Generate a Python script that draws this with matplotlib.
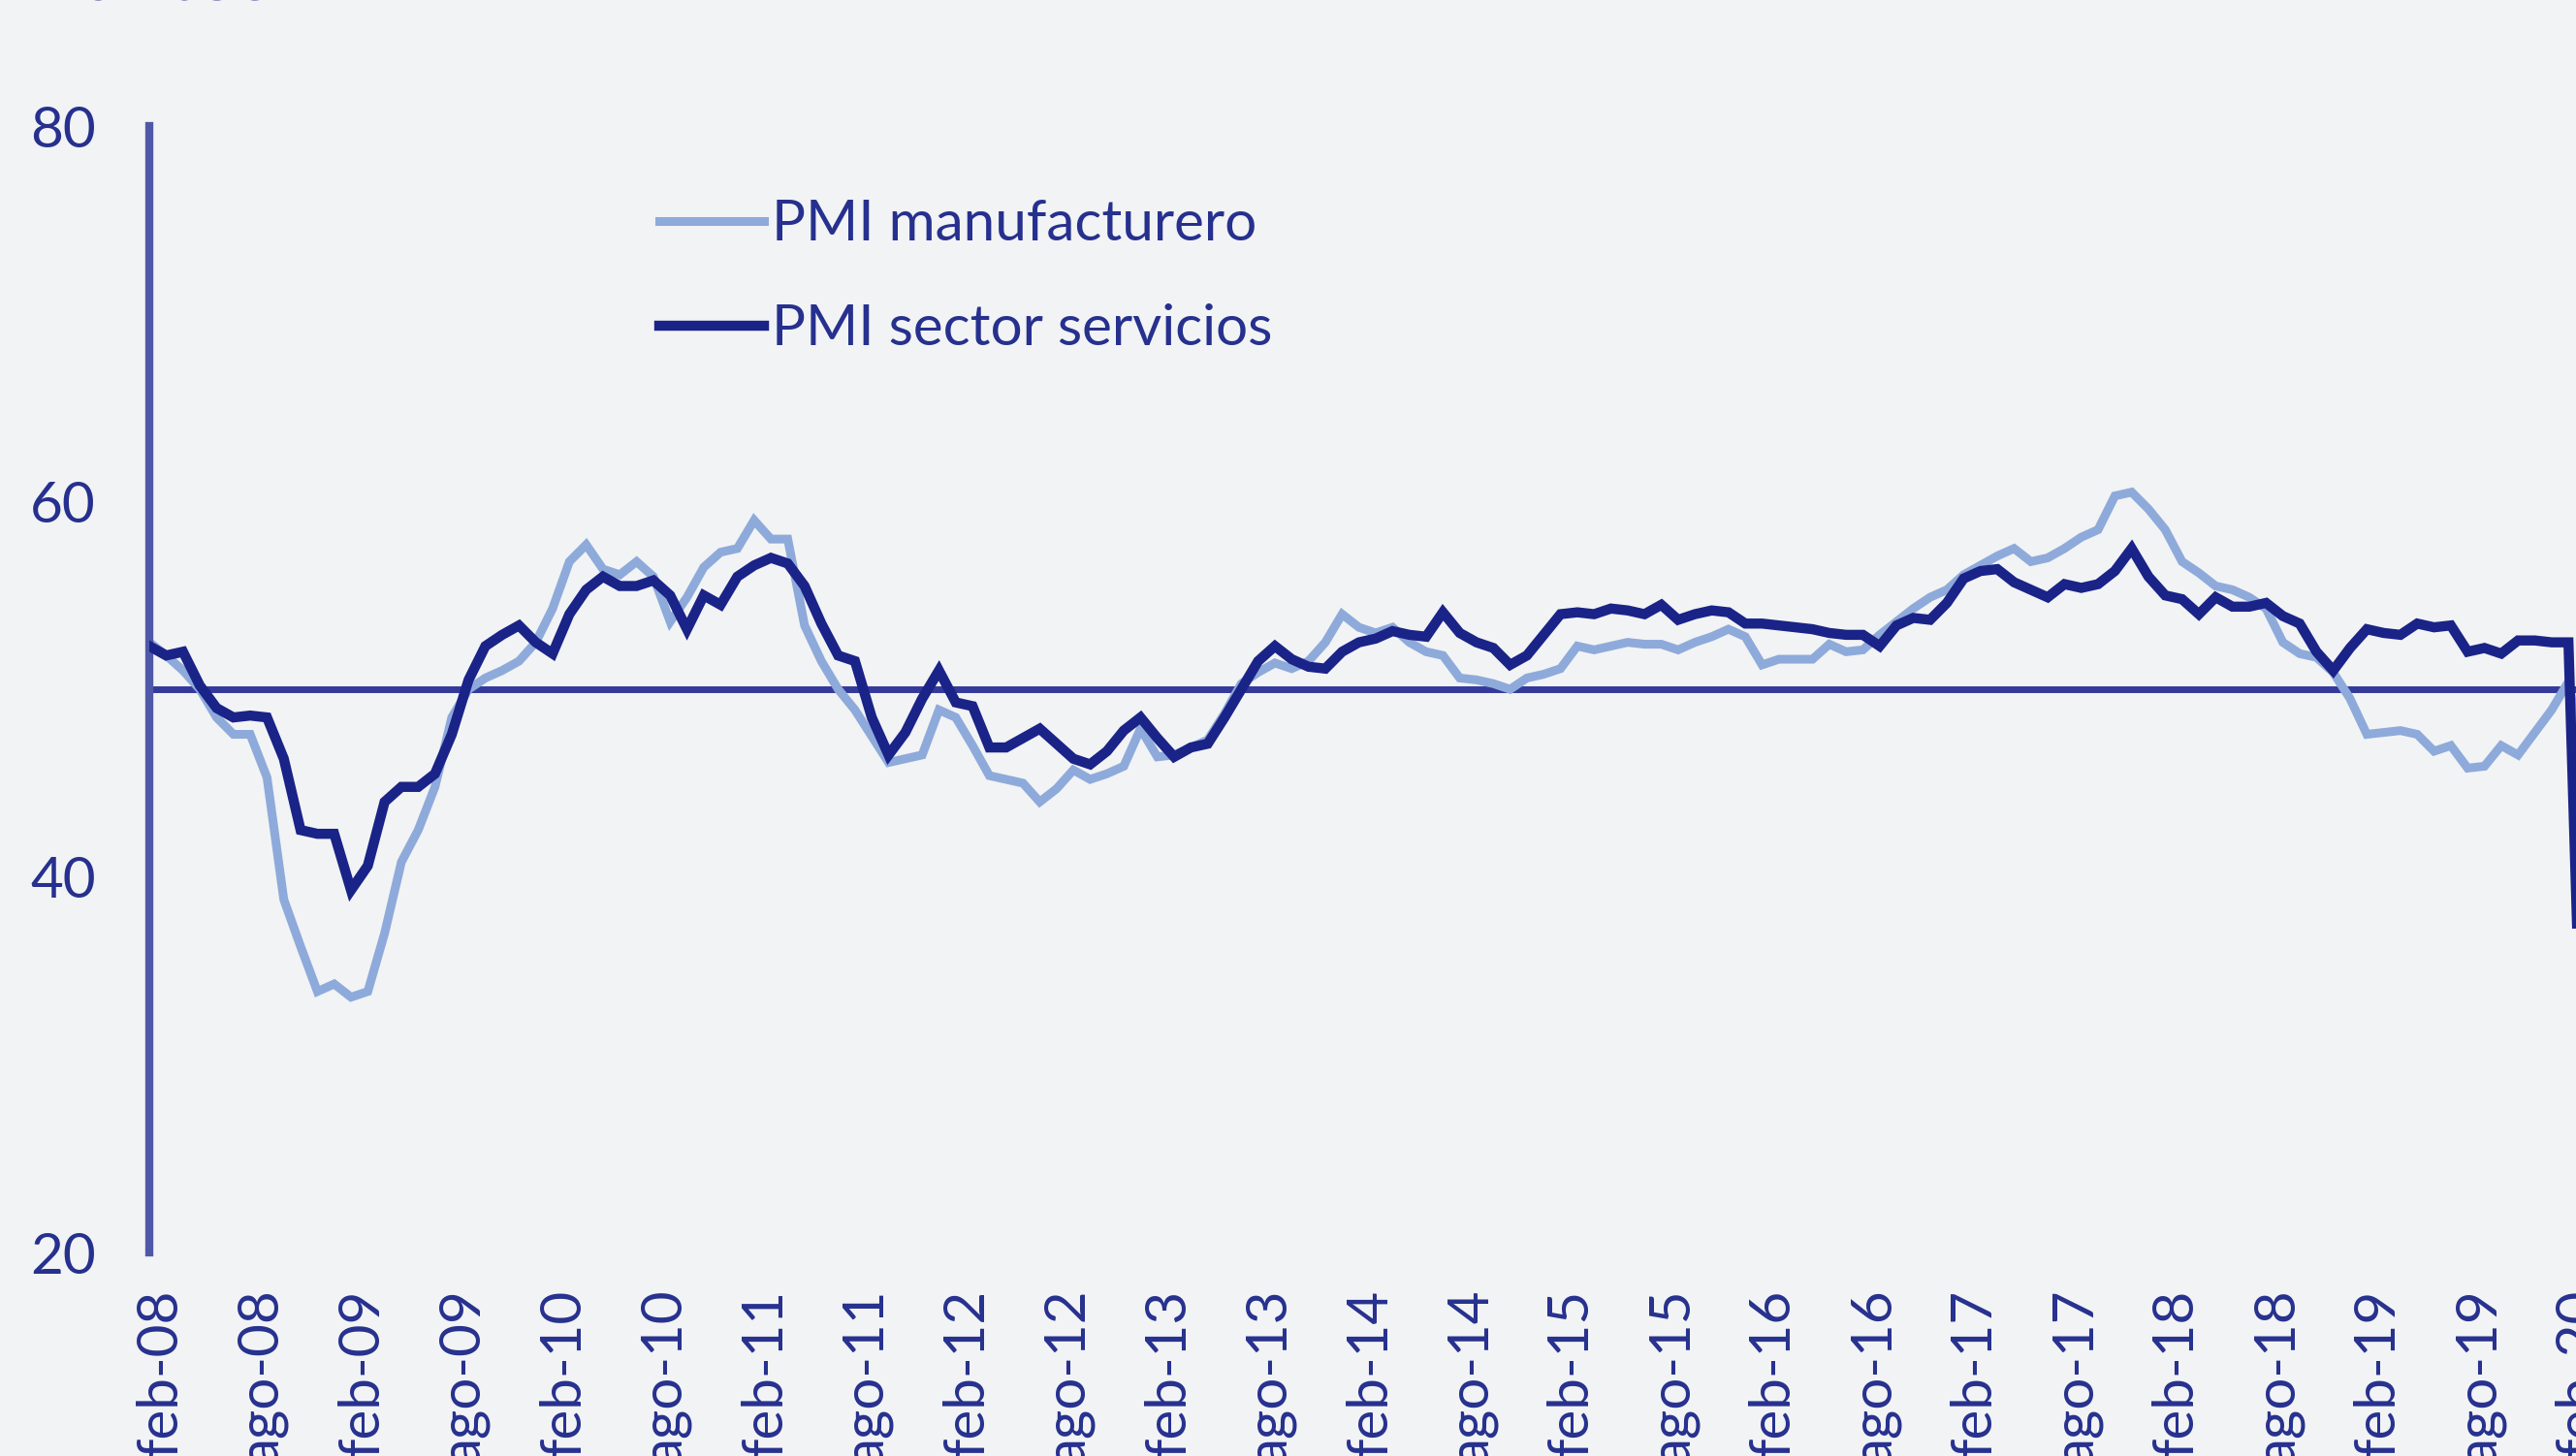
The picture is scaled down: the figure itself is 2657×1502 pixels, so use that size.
import matplotlib.pyplot as plt
from matplotlib.transforms import ScaledTranslation

# PMI Spain, monthly feb-08 .. mar-20 (points)
pmi_manufacturero = [
    52.5, 51.8, 51.0, 50.0, 48.5, 47.6, 47.6, 45.3, 38.8, 36.3,
    33.9, 34.3, 33.6, 33.9, 37.0, 40.8, 42.5, 44.8, 48.5, 50.0,
    50.6, 51.0, 51.5, 52.5, 54.3, 56.8, 57.7, 56.4, 56.1, 56.8,
    56.0, 53.6, 54.9, 56.5, 57.3, 57.5, 59.0, 58.0, 58.0, 53.4,
    51.5, 50.0, 48.9, 47.5, 46.1, 46.3, 46.5, 48.9, 48.5, 47.0,
    45.4, 45.2, 45.0, 44.0, 44.7, 45.7, 45.2, 45.5, 45.9, 47.9,
    46.4, 46.5, 46.9, 47.3, 48.7, 50.3, 50.9, 51.4, 51.1, 51.5,
    52.5, 54.0, 53.3, 53.0, 53.3, 52.5, 52.0, 51.8, 50.6, 50.5,
    50.3, 50.0, 50.6, 50.8, 51.1, 52.3, 52.1, 52.3, 52.5, 52.4,
    52.4, 52.1, 52.5, 52.8, 53.2, 52.8, 51.3, 51.6, 51.6, 51.6,
    52.4, 52.0, 52.1, 52.9, 53.6, 54.3, 54.9, 55.3, 56.1, 56.6,
    57.1, 57.5, 56.8, 57.0, 57.5, 58.1, 58.5, 60.3, 60.5, 59.6,
    58.5, 56.8, 56.2, 55.5, 55.3, 54.9, 54.3, 52.5, 51.9, 51.7,
    50.9, 49.5, 47.6, 47.7, 47.8, 47.6, 46.7, 47.0, 45.8, 45.9,
    47.0, 46.5, 47.7, 48.9, 50.4, 45.7,
]

pmi_servicios = [
    52.3, 51.8, 52.0, 50.2, 49.0, 48.5, 48.6, 48.5, 46.3, 42.5,
    42.3, 42.3, 39.3, 40.6, 44.0, 44.8, 44.8, 45.5, 47.6, 50.5,
    52.3, 52.9, 53.4, 52.5, 51.9, 54.0, 55.3, 56.0, 55.5, 55.5,
    55.8, 55.0, 53.2, 55.0, 54.5, 56.0, 56.6, 57.0, 56.7, 55.5,
    53.5, 51.8, 51.5, 48.5, 46.5, 47.7, 49.5, 51.0, 49.3, 49.1,
    46.9, 46.9, 47.4, 47.9, 47.1, 46.3, 46.0, 46.7, 47.8, 48.5,
    47.4, 46.4, 46.9, 47.1, 48.5, 50.0, 51.5, 52.3, 51.6, 51.2,
    51.1, 52.0, 52.5, 52.7, 53.1, 52.9, 52.8, 54.1, 53.0, 52.5,
    52.2, 51.3, 51.8, 52.9, 54.0, 54.1, 54.0, 54.3, 54.2, 54.0,
    54.5, 53.7, 54.0, 54.2, 54.1, 53.5, 53.5, 53.4, 53.3, 53.2,
    53.0, 52.9, 52.9, 52.3, 53.4, 53.8, 53.7, 54.6, 55.9, 56.3,
    56.4, 55.7, 55.3, 54.9, 55.6, 55.4, 55.6, 56.3, 57.5, 56.0,
    55.0, 54.8, 54.0, 54.9, 54.4, 54.4, 54.6, 53.9, 53.5, 52.0,
    51.0, 52.2, 53.2, 53.0, 52.9, 53.5, 53.3, 53.4, 52.0, 52.2,
    51.9, 52.6, 52.6, 52.5, 52.5, 23.0,
]

tick_labels = [
    "feb-08", "ago-08", "feb-09", "ago-09", "feb-10", "ago-10", "feb-11",
    "ago-11", "feb-12", "ago-12", "feb-13", "ago-13", "feb-14", "ago-14",
    "feb-15", "ago-15", "feb-16", "ago-16", "feb-17", "ago-17", "feb-18",
    "ago-18", "feb-19", "ago-19", "feb-20",
]
series_names = ["PMI manufacturero", "PMI sector servicios"]
umbral = 50

bg = '#F2F3F4'
text_color = '#26308E'
light_blue = '#8EAADB'
dark_blue = '#1A2387'

plt.rcParams['font.family'] = ['Lato', 'DejaVu Sans']

fig = plt.figure(figsize=(26.57, 15.02), dpi=100, facecolor=bg)
ax = fig.add_axes([0.058, 0.1398, 0.942, 0.7736])
ax.set_facecolor(bg)

x = list(range(len(pmi_servicios)))
ax.axhline(umbral, color='#343A9A', lw=5, zorder=1)
ax.plot(x, pmi_manufacturero, color=light_blue, lw=6.5, label=series_names[0],
        zorder=2, solid_joinstyle='miter')
ax.plot(x, pmi_servicios, color=dark_blue, lw=7.5, label=series_names[1],
        zorder=3, solid_joinstyle='miter')

ax.set_ylim(20, 80)
ax.set_xlim(0, 144.45)
ax.set_yticks([20, 40, 60, 80])
ax.set_xticks(range(0, 6 * len(tick_labels), 6))
ax.set_xticklabels(tick_labels, rotation=90, va='top', ha='center')

ax.tick_params(axis='y', length=0, pad=40, labelsize=42, labelcolor=text_color)
ax.tick_params(axis='x', length=0, pad=27, labelsize=42, labelcolor=text_color)

# labels sit a little right of their tick, as in the original
shift = ScaledTranslation(0.12, 0, fig.dpi_scale_trans)
for lbl in ax.get_xticklabels():
    lbl.set_transform(lbl.get_transform() + shift)

for side in ['top', 'right', 'bottom']:
    ax.spines[side].set_visible(False)
ax.spines['left'].set_color('#4F58A8')
ax.spines['left'].set_linewidth(6)

leg = ax.legend(loc='upper left', bbox_to_anchor=(0.247, 0.879),
                bbox_transform=fig.transFigure, frameon=False,
                fontsize=42, handlelength=1.85, handletextpad=0.15,
                labelspacing=0.95, borderaxespad=0)
for t in leg.get_texts():
    t.set_color(text_color)

# title cut off at the top edge of the image
fig.text(0.013, 1.0, "Puntos", fontsize=58, color=text_color,
         va='baseline', ha='left')

fig.savefig('out.png', dpi=100, facecolor=bg)
